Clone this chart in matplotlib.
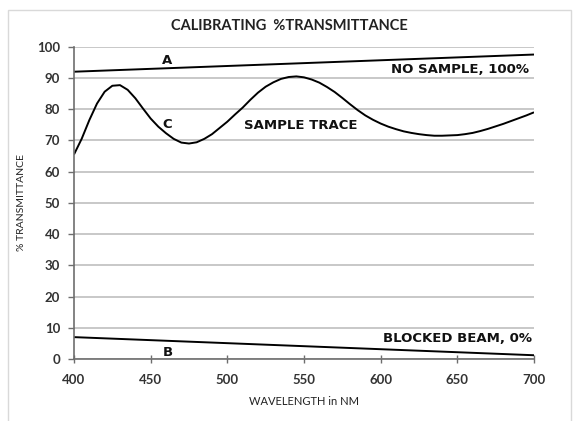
import matplotlib
matplotlib.use("Agg")
import matplotlib.pyplot as plt
from matplotlib.patches import Rectangle

# wavelength (nm) / %T
ends_nm = [400, 700]
no_sample = [92.0, 97.5]      # line A
blocked = [7.0, 1.2]          # line B

# sample trace (C), read every 5 nm
trace_nm = [400, 405, 410, 415, 420, 425, 430, 435, 440, 445, 450, 455, 460,
            465, 470, 475, 480, 485, 490, 495, 500, 505, 510, 515, 520, 525,
            530, 535, 540, 545, 550, 555, 560, 565, 570, 575, 580, 585, 590,
            595, 600, 605, 610, 615, 620, 625, 630, 635, 640, 645, 650, 655,
            660, 665, 670, 675, 680, 685, 690, 695, 700]
trace_pct = [65.5, 70.5, 76.5, 81.8, 85.6, 87.5, 87.7, 86.2, 83.5, 80.2, 77.0,
             74.4, 72.3, 70.5, 69.3, 69.0, 69.4, 70.5, 72.0, 74.0, 76.0, 78.3,
             80.5, 83.0, 85.3, 87.2, 88.6, 89.7, 90.3, 90.5, 90.2, 89.5, 88.5,
             87.1, 85.5, 83.6, 81.6, 79.7, 78.0, 76.6, 75.4, 74.4, 73.6, 72.9,
             72.4, 72.0, 71.7, 71.5, 71.5, 71.6, 71.7, 72.0, 72.4, 73.0, 73.7,
             74.5, 75.3, 76.2, 77.1, 78.0, 79.0]

x_ticks = [400, 450, 500, 550, 600, 650, 700]
y_ticks = [0, 10, 20, 30, 40, 50, 60, 70, 80, 90, 100]

fig = plt.figure(figsize=(5.79, 4.21), dpi=100)
ax = fig.add_axes([0.1278, 0.1473, 0.7945, 0.7417])

# light frame around the whole chart
fig.patches.append(Rectangle((8 / 579, -0.05), 0.972, 1.026, transform=fig.transFigure,
                             fill=False, edgecolor="#d9d9d9", linewidth=1.0))

line_kw = dict(color="black", linewidth=1.4, solid_capstyle="butt", solid_joinstyle="round")
ax.plot(ends_nm, no_sample, **line_kw)
ax.plot(ends_nm, blocked, **line_kw)
ax.plot(trace_nm, trace_pct, **line_kw)

ax.set_xlim(400, 700)
ax.set_ylim(0, 100)
ax.set_xticks(x_ticks)
ax.set_yticks(y_ticks)
ax.yaxis.grid(True, color="#bfbfbf", linewidth=1.2)
ax.set_axisbelow(True)
for side in ("top", "right"):
    ax.spines[side].set_visible(False)
for side in ("left", "bottom"):
    ax.spines[side].set_color("#6e6e6e")
    ax.spines[side].set_linewidth(1.2)
ax.tick_params(axis="x", direction="inout", length=6, width=1.0, color="#6e6e6e", pad=8)
ax.tick_params(axis="y", direction="out", length=4, width=1.0, color="#6e6e6e", pad=6)
for lbl in ax.get_xticklabels() + ax.get_yticklabels():
    lbl.set_fontfamily("Lato")
    lbl.set_fontweight("bold")
    lbl.set_fontsize(9.5)
    lbl.set_color("#333333")

ax.set_xlabel("WAVELENGTH in NM", fontfamily="Lato", fontsize=8, color="#222222", labelpad=7)
ax.set_ylabel("% TRANSMITTANCE", fontfamily="Lato", fontsize=7.5, color="#222222", labelpad=8)
fig.text(0.5, 0.938, "CALIBRATING  %TRANSMITTANCE", ha="center", va="center",
         fontfamily="Lato", fontweight="bold", fontsize=10.5, color="#222222")

note = dict(fontfamily="DejaVu Sans", fontweight="bold", fontsize=9.5, color="#111111")
ax.text(461, 95.6, "A", ha="center", va="center", **note)
ax.text(461, 75.0, "C", ha="center", va="center", **note)
ax.text(461, 2.2, "B", ha="center", va="center", **note)
ax.text(548, 74.7, "SAMPLE TRACE", ha="center", va="center", **note)
ax.text(697, 92.6, "NO SAMPLE, 100%", ha="right", va="center", **note)
ax.text(699, 6.6, "BLOCKED BEAM, 0%", ha="right", va="center", **note)

fig.savefig("out.png", dpi=100)
